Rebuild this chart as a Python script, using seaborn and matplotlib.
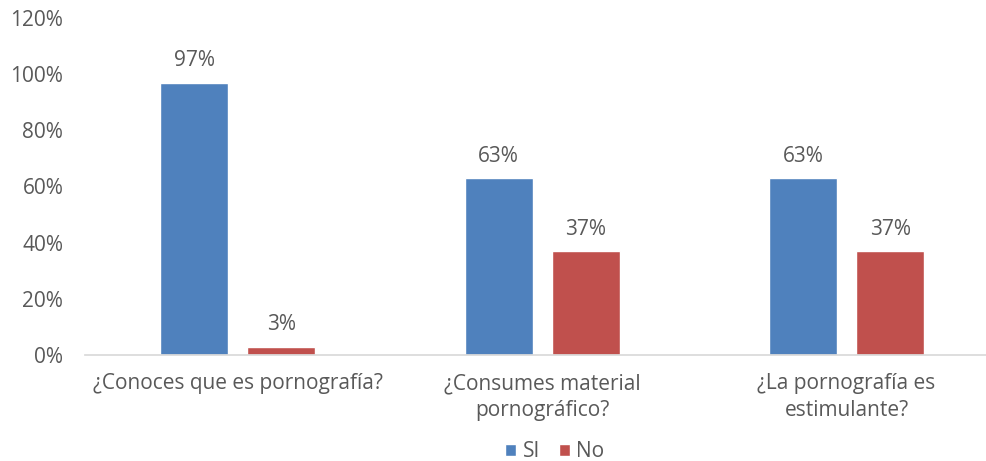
import matplotlib
matplotlib.use("Agg")
import matplotlib.pyplot as plt
import pandas as pd
import seaborn as sns
from matplotlib.ticker import PercentFormatter

# Data
preguntas = ["¿Conoces que es pornografía?",
             "¿Consumes material\npornográfico?",
             "¿La pornografía es\nestimulante?"]
si = [97, 63, 63]
no = [3, 37, 37]

df = pd.DataFrame({
    "pregunta": preguntas * 2,
    "respuesta": ["SI"] * 3 + ["No"] * 3,
    "valor": si + no,
})

sns.set_theme(style="white")
plt.rcParams["font.family"] = ["Open Sans", "DejaVu Sans"]
grey = "#595959"
fs = 15

fig = plt.figure(figsize=(9.87, 4.61), dpi=100)
ax = fig.add_axes([0.0866, 0.23, 0.9254, 0.731])

sns.barplot(data=df, x="pregunta", y="valor", hue="respuesta",
            palette={"SI": "#4F81BD", "No": "#C0504D"},
            width=0.572, gap=0.22, saturation=1, ax=ax)

for c in ax.containers:
    ax.bar_label(c, labels=[f"{v:.0f}%" for v in c.datavalues],
                 padding=8, fontsize=fs, color=grey)

ax.set_ylim(0, 120)
ax.set_yticks(range(0, 121, 20))
ax.yaxis.set_major_formatter(PercentFormatter(decimals=0))
ax.set_xlim(-0.5, 2.5)
ax.set_xlabel("")
ax.set_ylabel("")
ax.tick_params(axis="both", colors=grey, labelsize=fs, length=0)
ax.tick_params(axis="y", pad=16)
ax.tick_params(axis="x", pad=13)
for t in ax.get_xticklabels():
    t.set_linespacing(1.35)

for s in ["top", "right", "left"]:
    ax.spines[s].set_visible(False)
ax.spines["bottom"].set_color("#D9D9D9")

handles, labels = ax.get_legend_handles_labels()
ax.legend(handles, labels, loc="center", bbox_to_anchor=(0.562, 0.02),
          bbox_transform=fig.transFigure, ncol=2, frameon=False,
          fontsize=fs, labelcolor=grey, handlelength=0.55, handleheight=0.55,
          handletextpad=0.3, columnspacing=0.9)

fig.savefig("out.png", dpi=100)
